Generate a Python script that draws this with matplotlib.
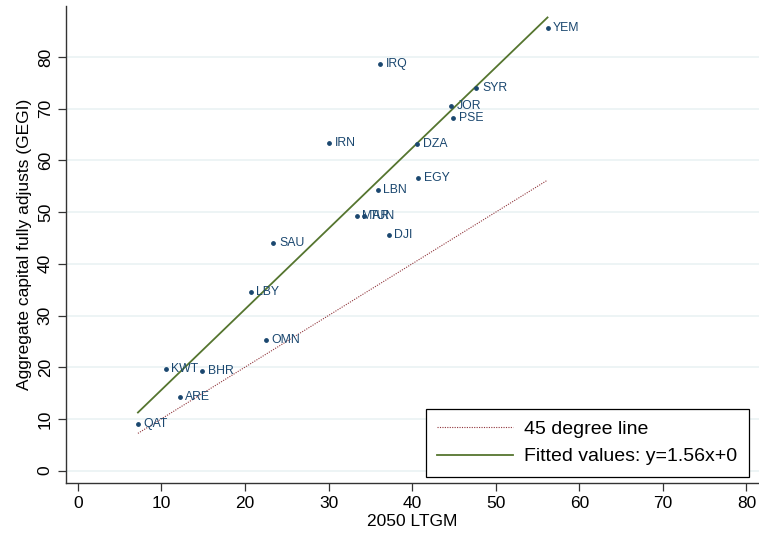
import matplotlib.pyplot as plt
import numpy as np

plt.rcParams['font.family'] = ['Liberation Sans', 'DejaVu Sans']

# country codes, 2050 LTGM (x) and aggregate capital fully adjusts (y)
countries = ['QAT', 'KWT', 'BHR', 'ARE', 'OMN', 'LBY', 'SAU', 'IRN', 'IRQ', 'MAR',
             'TUN', 'LBN', 'DJI', 'EGY', 'DZA', 'JOR', 'PSE', 'SYR', 'YEM']
ltgm = [7.2, 10.5, 14.9, 12.2, 22.5, 20.7, 23.4, 30.1, 36.2, 33.4,
        34.3, 35.9, 37.2, 40.7, 40.6, 44.7, 44.9, 47.7, 56.2]
gegi = [9.0, 19.7, 19.3, 14.3, 25.3, 34.6, 44.0, 63.4, 78.7, 49.2,
        49.3, 54.3, 45.6, 56.6, 63.2, 70.5, 68.2, 74.0, 85.6]
slope = 1.56

navy = '#1a476f'
red = '#90353b'
green = '#55752f'

fig = plt.figure(figsize=(7.59, 5.40), dpi=100)
ax = fig.add_axes([0.087, 0.1056, 0.913, 0.8834])

x = np.array(ltgm)
y = np.array(gegi)
xs = np.array([x.min(), x.max()])

ax.scatter(x, y, s=6, color=navy, zorder=3)
for c, xi, yi in zip(countries, x, y):
    ax.annotate(c, (xi, yi), xytext=(4, 0), textcoords='offset points',
                va='center', ha='left', fontsize=8.8, color=navy)

ax.plot(xs, xs, color=red, linestyle=(0, (1, 1.2)), linewidth=0.8,
        label='45 degree line')
ax.plot(xs, slope * xs, color=green, linewidth=1.3,
        label='Fitted values: y=1.56x+0')

ax.set_xlim(-1.4, 81.5)
ax.set_ylim(-2.4, 89.9)
ax.set_xticks(range(0, 81, 10))
ax.set_yticks(range(0, 81, 10))
ax.tick_params(axis='both', labelsize=12.5, length=6, width=0.9, color='#333333')
for lab in ax.get_yticklabels():
    lab.set_rotation(90)
    lab.set_va('center')
ax.yaxis.grid(True, color='#eaf2f3', linewidth=1.2)
ax.set_axisbelow(True)
for side in ['top', 'right']:
    ax.spines[side].set_visible(False)
for side in ['left', 'bottom']:
    ax.spines[side].set_linewidth(1.0)
    ax.spines[side].set_color('#333333')

ax.set_xlabel('2050 LTGM', fontsize=12.5, labelpad=2)
ax.set_ylabel('Aggregate capital fully adjusts (GEGI)', fontsize=12.5, labelpad=4)

leg = ax.legend(loc='lower right', fontsize=14, frameon=True, fancybox=False,
                edgecolor='black', framealpha=1, handlelength=3.9,
                handletextpad=0.57, labelspacing=0.5, borderpad=0.6,
                borderaxespad=0.3, bbox_to_anchor=(0.994, 0.0))
leg.get_frame().set_linewidth(0.9)

fig.savefig('out.png', dpi=100)
